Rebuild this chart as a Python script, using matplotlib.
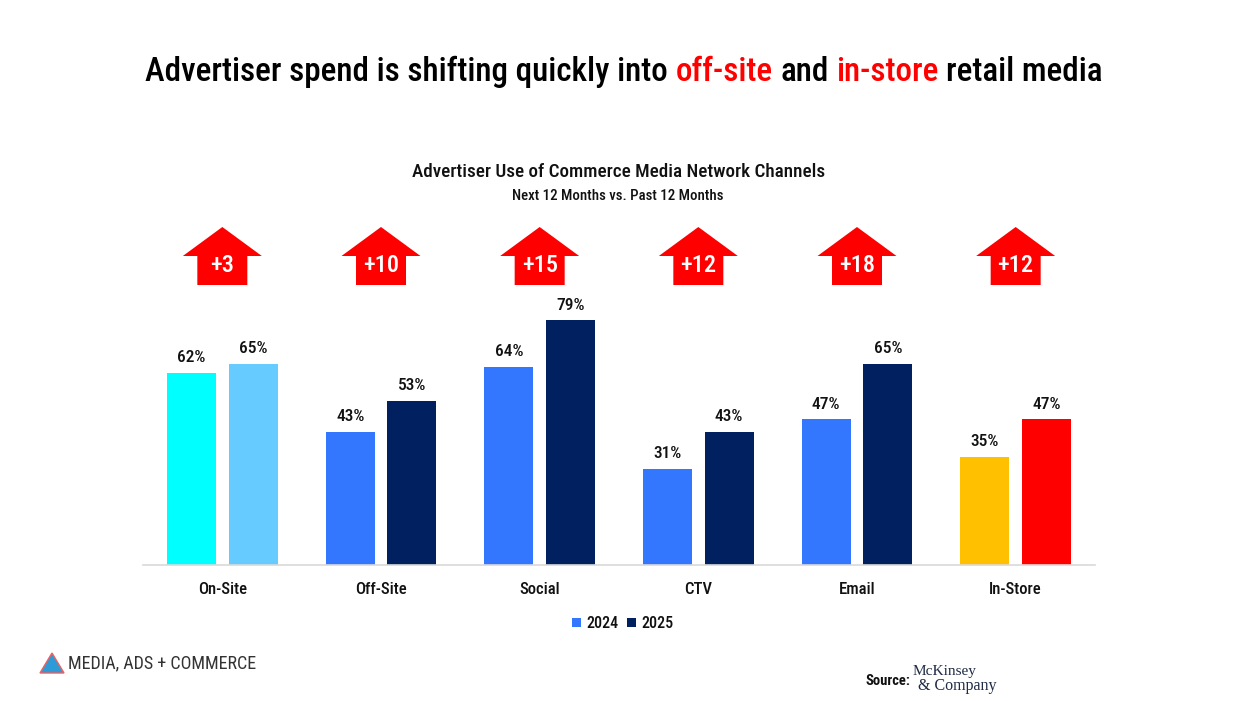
import matplotlib
matplotlib.use("Agg")
import matplotlib.pyplot as plt
from matplotlib import font_manager
from matplotlib.patches import Polygon
import numpy as np

categories = ["On-Site", "Off-Site", "Social", "CTV", "Email", "In-Store"]
values_2024 = [62, 43, 64, 31, 47, 35]
values_2025 = [65, 53, 79, 43, 65, 47]
changes = ["+3", "+10", "+15", "+12", "+18", "+12"]
colors_2024 = ["#00FFFF", "#3377FF", "#3377FF", "#3377FF", "#3377FF", "#FFC000"]
colors_2025 = ["#66CCFF", "#002060", "#002060", "#002060", "#002060", "#FF0000"]
legend_labels = ["2024", "2025"]

# pick a condensed font if we have one
names = {f.name for f in font_manager.fontManager.ttflist}
cond = "DejaVu Sans"
for cand in ["Roboto Condensed", "Liberation Sans Narrow", "Open Sans Condensed", "DejaVu Sans"]:
    if cand in names:
        cond = cand
        break
serif = "Liberation Serif" if "Liberation Serif" in names else "DejaVu Serif"
plt.rcParams["font.family"] = [cond, "DejaVu Sans"]
MED = "medium"

W, H = 1248, 701
fig = plt.figure(figsize=(W / 100, H / 100), dpi=100)
fig.patch.set_facecolor("white")

# overlay in pixel coordinates for titles, arrows and footer
ov = fig.add_axes([0, 0, 1, 1])
ov.set_xlim(0, W)
ov.set_ylim(H, 0)
ov.axis("off")

# bar chart
ax = fig.add_axes([143 / W, 1 - 565 / H, 952 / W, 310 / H])
x = np.arange(len(categories))
off, bw = 0.194, 0.308
ax.bar(x - off, values_2024, bw, color=colors_2024, zorder=2)
ax.bar(x + off, values_2025, bw, color=colors_2025, zorder=2)
for i in range(len(categories)):
    ax.text(x[i] - off, values_2024[i] + 2.4, f"{values_2024[i]}%", ha="center", va="bottom",
            fontsize=12.5, fontweight=MED, color="#111111")
    ax.text(x[i] + off, values_2025[i] + 2.4, f"{values_2025[i]}%", ha="center", va="bottom",
            fontsize=12.5, fontweight=MED, color="#111111")
ax.set_xlim(-0.5, len(categories) - 0.5)
ax.set_ylim(0, 100)
ax.set_yticks([])
ax.set_xticks(x)
ax.set_xticklabels(categories, fontsize=12, fontweight=MED, color="#111111")
ax.tick_params(axis="x", length=0, pad=12)
for s in ["top", "right", "left"]:
    ax.spines[s].set_visible(False)
ax.spines["bottom"].set_color("#D9D9D9")
ax.spines["bottom"].set_linewidth(1.2)
ax.patch.set_alpha(0)

# arrows
group_px = 143 + (x + 0.5) * 952 / len(categories)
for cx, lab in zip(group_px, changes):
    pts = [(cx, 227), (cx + 39.5, 256), (cx + 25, 256), (cx + 25, 285),
           (cx - 25, 285), (cx - 25, 256), (cx - 39.5, 256)]
    ov.add_patch(Polygon(pts, closed=True, color="#FF0000", lw=0))
    ov.text(cx, 266, lab, ha="center", va="center", color="white", fontsize=17.5, fontweight=MED)

# multi-colour headline, fitted to the reference width
fig.canvas.draw()
r = fig.canvas.get_renderer()
segs = [("Advertiser spend is shifting quickly into", "black"), ("off-site", "#FF0000"),
        ("and", "black"), ("in-store", "#FF0000"), ("retail media", "black")]
target = 961
fs = 30.0
texts = [ov.text(0, 72, s, color=c, fontsize=fs, fontweight=MED, va="center") for s, c in segs]
probe = ov.text(0, 0, "a a", fontsize=fs, fontweight=MED)
for _ in range(2):
    for t in texts:
        t.set_fontsize(fs)
    probe.set_fontsize(fs)
    probe.set_text("a a")
    w1 = probe.get_window_extent(r).width
    probe.set_text("aa")
    sp = w1 - probe.get_window_extent(r).width
    widths = [t.get_window_extent(r).width for t in texts]
    total = sum(widths) + sp * (len(segs) - 1)
    fs = fs * target / total
probe.remove()
xx = 624 - total / 2
for t, w in zip(texts, widths):
    t.set_x(xx)
    xx += w + sp

ov.text(619, 172, "Advertiser Use of Commerce Media Network Channels", ha="center", va="center",
        fontsize=13.8, fontweight=MED, color="#111111")
ov.text(618, 196, "Next 12 Months vs. Past 12 Months", ha="center", va="center",
        fontsize=10.7, fontweight=MED, color="#111111")

# legend
for lx, col, lab in [(577, "#3377FF", "2024"), (632, "#002060", "2025")]:
    ov.add_patch(plt.Rectangle((lx - 5, 618), 9, 9, color=col, lw=0))
    ov.text(lx + 9, 623, lab, ha="left", va="center", fontsize=11.5, fontweight=MED, color="#111111")

# footer
ov.add_patch(Polygon([(52, 653), (64, 673), (40, 673)], closed=True, fc="#2E9BD6", ec="#F0605D", lw=1))
ov.text(68, 663, "MEDIA, ADS + COMMERCE", ha="left", va="center", fontsize=13, color="#333333")
ov.text(865, 681, "Source:", ha="left", va="center", fontsize=10.5, fontweight="bold", color="#111111")
ov.text(913, 671, "McKinsey", ha="left", va="center", fontsize=11, family=serif, color="#1F2A44")
ov.text(918, 686, "& Company", ha="left", va="center", fontsize=11.5, family=serif, color="#1F2A44")

fig.savefig("out.png", dpi=100, facecolor="white")
